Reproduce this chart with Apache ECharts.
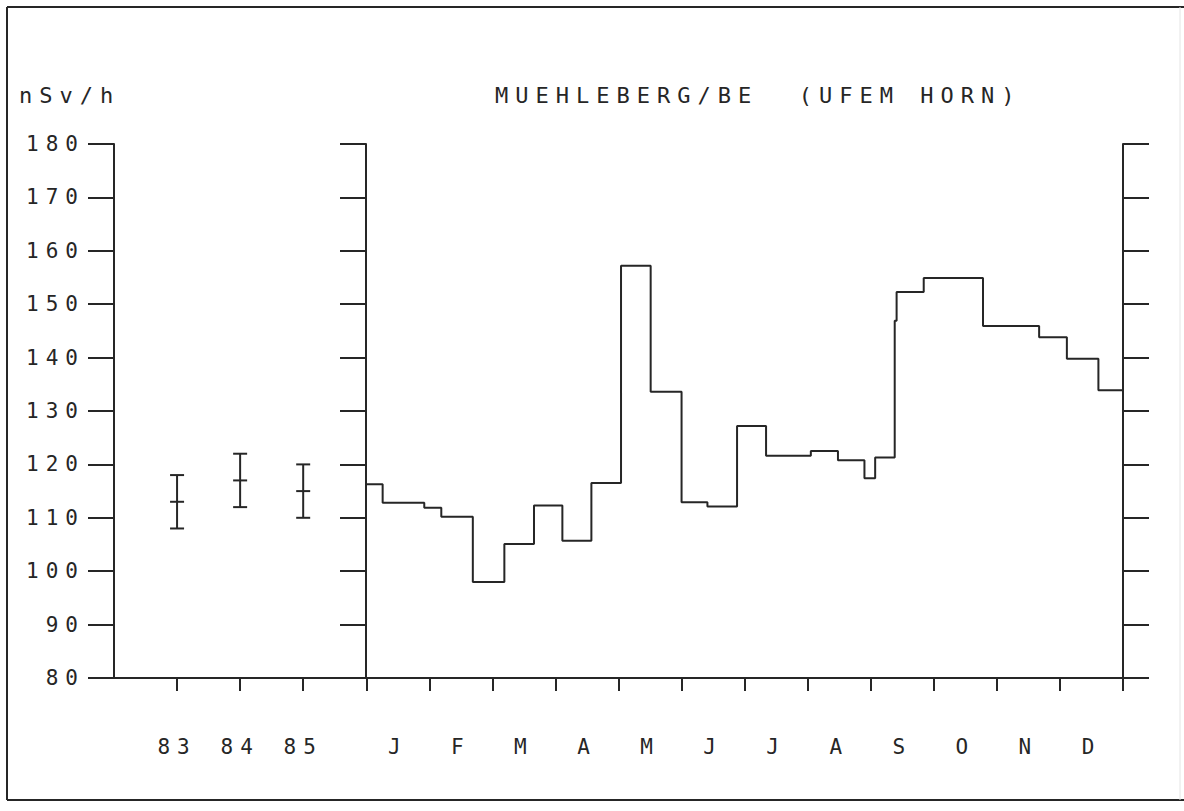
<!DOCTYPE html>
<html>
<head>
<meta charset="utf-8">
<script src="https://cdn.jsdelivr.net/npm/echarts@6/dist/echarts.min.js"></script>
<style>
  html, body { margin: 0; padding: 0; background: #fff; }
  #chart { width: 1184px; height: 811px; }
  /* plotter-style wide lettering */
  #chart text { letter-spacing: 7px; }
</style>
</head>
<body>
<div id="chart"></div>
<script>
// Yearly means 1983-1985 with their ranges
const years = ['83', '84', '85'];
const yearPos = [-3, -2, -1];
const yearMean = [113, 117, 115];
const yearLow = [108, 112, 110];
const yearHigh = [118, 122, 120];

// Monthly axis (value axis in months, 0 = 1 January)
const months = ['J', 'F', 'M', 'A', 'M', 'J', 'J', 'A', 'S', 'O', 'N', 'D'];

// Start of each measuring period (in months) and dose rate for that period, nSv/h
const periodStart = [0, 0.26, 0.92, 1.19, 1.69, 2.19, 2.66, 3.11, 3.57, 4.04, 4.51, 5.0,
  5.41, 5.88, 6.34, 7.05, 7.48, 7.9, 8.07, 8.38, 8.41, 8.84, 9.78, 10.67, 11.11, 11.61];
const periodValue = [116.3, 112.8, 111.9, 110.2, 98.0, 105.1, 112.3, 105.7, 116.5, 157.2,
  133.6, 112.9, 112.1, 127.2, 121.6, 122.5, 120.8, 117.4, 121.3, 146.9, 152.3, 154.9,
  145.9, 143.8, 139.8, 133.9];
const periodEnd = 12;

const yTicks = { min: 80, max: 180, step: 10 };

const INK = '#262626';
const FONT = '"DejaVu Sans Mono", "Liberation Mono", monospace';

const stepData = periodStart.map((s, i) => [s, periodValue[i]]);
stepData.push([periodEnd, periodValue[periodValue.length - 1]]);

const barData = yearPos.map((p, i) => [p, yearMean[i], yearLow[i], yearHigh[i]]);

const tickValues = yearPos.concat(months.map((m, i) => i)).concat([months.length]);
const labelValues = yearPos.concat(months.map((m, i) => i + 0.5));
function xLabel(v) {
  const yi = yearPos.indexOf(v);
  if (yi >= 0) return years[yi];
  const mi = Math.floor(v);
  return months[mi] || '';
}

function yAxisDef(extra) {
  return Object.assign({
    type: 'value',
    min: yTicks.min,
    max: yTicks.max,
    interval: yTicks.step,
    axisLine: { show: true, onZero: false, lineStyle: { color: INK, width: 2 } },
    axisTick: { show: true, inside: false, length: 26, lineStyle: { color: INK, width: 2 } },
    axisLabel: { show: false },
    splitLine: { show: false }
  }, extra);
}

const chart = echarts.init(document.getElementById('chart'), null, { renderer: 'svg' });
chart.setOption({
  backgroundColor: '#fff',
  animation: false,
  title: [
    {
      text: 'MUEHLEBERG/BE  (UFEM HORN)',
      left: 495, top: 84, padding: 0,
      textStyle: { fontFamily: FONT, fontSize: 22, fontWeight: 'normal', color: INK }
    },
    {
      text: 'nSv/h',
      left: 19, top: 84, padding: 0,
      textStyle: { fontFamily: FONT, fontSize: 22, fontWeight: 'normal', color: INK }
    }
  ],
  graphic: [
    { type: 'line', shape: { x1: 7, y1: 7, x2: 1184, y2: 7 }, style: { stroke: INK, lineWidth: 2 } },
    { type: 'line', shape: { x1: 7, y1: 7, x2: 7, y2: 800 }, style: { stroke: INK, lineWidth: 2 } },
    { type: 'line', shape: { x1: 7, y1: 800, x2: 1184, y2: 800 }, style: { stroke: INK, lineWidth: 2 } },
    { type: 'line', shape: { x1: 1180, y1: 7, x2: 1180, y2: 800 }, style: { stroke: '#e4e4e4', lineWidth: 1 } }
  ],
  grid: { left: 114, right: 61, top: 144, bottom: 133 },
  xAxis: {
    type: 'value',
    min: -4,
    max: 12,
    interval: 1,
    axisLine: { show: true, onZero: false, lineStyle: { color: INK, width: 2 } },
    axisTick: { show: true, length: 13, customValues: tickValues, lineStyle: { color: INK, width: 2 } },
    axisLabel: {
      customValues: labelValues,
      formatter: xLabel,
      margin: 58,
      fontFamily: FONT,
      fontSize: 21,
      color: INK
    },
    splitLine: { show: false }
  },
  yAxis: [
    yAxisDef({
      position: 'left',
      axisLabel: { show: true, margin: 29, fontFamily: FONT, fontSize: 21, color: INK }
    }),
    yAxisDef({ position: 'right' }),
    yAxisDef({ position: 'left', offset: -252 })
  ],
  series: [
    {
      type: 'line',
      step: 'end',
      data: stepData,
      symbol: 'none',
      lineStyle: { color: INK, width: 2 }
    },
    {
      type: 'custom',
      data: barData,
      renderItem: function (params, api) {
        const x = api.value(0);
        const pMean = api.coord([x, api.value(1)]);
        const pLow = api.coord([x, api.value(2)]);
        const pHigh = api.coord([x, api.value(3)]);
        const hw = 7;
        const st = { stroke: INK, lineWidth: 2, fill: null };
        return {
          type: 'group',
          children: [
            { type: 'line', shape: { x1: pLow[0], y1: pLow[1], x2: pHigh[0], y2: pHigh[1] }, style: st },
            { type: 'line', shape: { x1: pLow[0] - hw, y1: pLow[1], x2: pLow[0] + hw, y2: pLow[1] }, style: st },
            { type: 'line', shape: { x1: pHigh[0] - hw, y1: pHigh[1], x2: pHigh[0] + hw, y2: pHigh[1] }, style: st },
            { type: 'line', shape: { x1: pMean[0] - hw, y1: pMean[1], x2: pMean[0] + hw, y2: pMean[1] }, style: st }
          ]
        };
      }
    }
  ]
});
</script>
</body>
</html>
